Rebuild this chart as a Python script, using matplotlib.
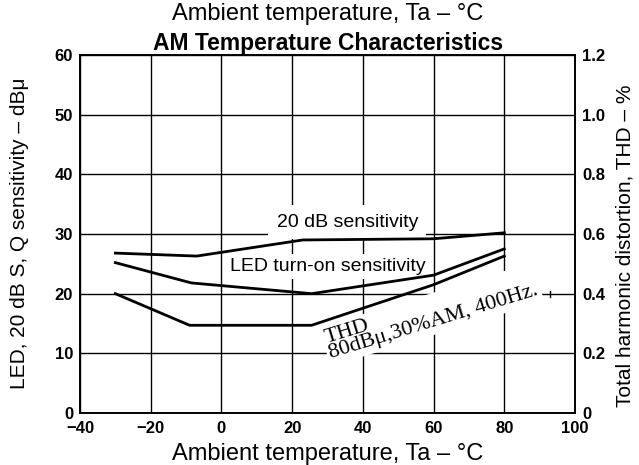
import matplotlib
matplotlib.use("Agg")
import matplotlib.pyplot as plt

# Data
sens20_x = [-30, -7, 23, 60, 80]
sens20_db = [26.8, 26.3, 29.0, 29.2, 30.2]
led_x = [-30, -8.5, 25.5, 60, 80]
led_db = [25.2, 21.8, 20.0, 23.1, 27.5]
thd_x = [-30, -9, 25.5, 60, 80]
thd_pct = [0.40, 0.294, 0.294, 0.43, 0.526]

x_ticks = [-40, -20, 0, 20, 40, 60, 80, 100]
x_ticklabels = ["\u221240", "\u221220", "0", "20", "40", "60", "80", "100"]
left_ticks = [0, 10, 20, 30, 40, 50, 60]
right_ticks = [0, 0.2, 0.4, 0.6, 0.8, 1.0, 1.2]
right_ticklabels = ["0", "0.2", "0.4", "0.6", "0.8", "1.0", "1.2"]

plt.rcParams['font.family'] = ['Liberation Sans', 'DejaVu Sans']

W, H = 639, 465
fig = plt.figure(figsize=(W/100, H/100), dpi=100)
ax = fig.add_axes([80/W, 1-413/H, (575-80)/W, (413-55)/H])
ax2 = ax.twinx()

ax.set_xlim(-40, 100)
ax.set_ylim(0, 60)
ax2.set_ylim(0, 1.2)

ax.set_xticks(x_ticks)
ax.set_xticklabels(x_ticklabels, fontsize=12, fontweight='bold')
ax.set_yticks(left_ticks)
ax.set_yticklabels([str(t) for t in left_ticks], fontsize=12, fontweight='bold')
ax2.set_yticks(right_ticks)
ax2.set_yticklabels(right_ticklabels, fontsize=12, fontweight='bold')

ax.tick_params(axis='y', length=0, pad=5)
ax.tick_params(axis='x', length=0, pad=6)
ax2.tick_params(length=0, pad=5)
ax.grid(True, color='black', linewidth=1.0)
for sp in list(ax.spines.values()) + list(ax2.spines.values()):
    sp.set_color('black')
    sp.set_linewidth(1.2)

ax.plot(sens20_x, sens20_db, color='black', lw=2.0, zorder=5, solid_joinstyle='miter')
ax.plot(led_x, led_db, color='black', lw=2.0, zorder=5, solid_joinstyle='miter')
ax2.plot(thd_x, thd_pct, color='black', lw=2.0, zorder=5, solid_joinstyle='miter')

ax.text(35.6, 32.0, "20 dB sensitivity", fontsize=14, ha='center', va='center',
        bbox=dict(facecolor='white', edgecolor='none', pad=6), zorder=4)
ax.text(30.1, 24.5, "LED turn-on sensitivity", fontsize=14, ha='center', va='center',
        bbox=dict(facecolor='white', edgecolor='none', pad=3), zorder=4)
ax2.text(28.5, 0.28, "THD\n80dB\u03bc,30%AM, 400Hz.", fontsize=16, rotation=17,
         rotation_mode='anchor', ha='left', va='top', family=['Liberation Serif', 'DejaVu Serif'],
         linespacing=0.8, bbox=dict(facecolor='white', edgecolor='none', pad=2), zorder=4)
ax2.plot([93, 93], [0.39, 0.41], color='black', lw=1.0, zorder=5)

fig.text(328/W, 1-14/H, "Ambient temperature, Ta \u2013 \u00b0C", fontsize=17,
         ha='center', va='center')
fig.text(328/W, 1-43/H, "AM Temperature Characteristics", fontsize=16.5,
         fontweight='bold', ha='center', va='center')
fig.text(328/W, 1-454/H, "Ambient temperature, Ta \u2013 \u00b0C", fontsize=17,
         ha='center', va='center')
fig.text(20/W, 1-233/H, "LED, 20 dB S, Q sensitivity \u2013 dB\u03bc", fontsize=15,
         rotation=90, ha='center', va='center')
fig.text(625/W, 1-246/H, "Total harmonic distortion, THD \u2013 %", fontsize=15,
         rotation=90, ha='center', va='center')

fig.savefig("out.png", dpi=100)
